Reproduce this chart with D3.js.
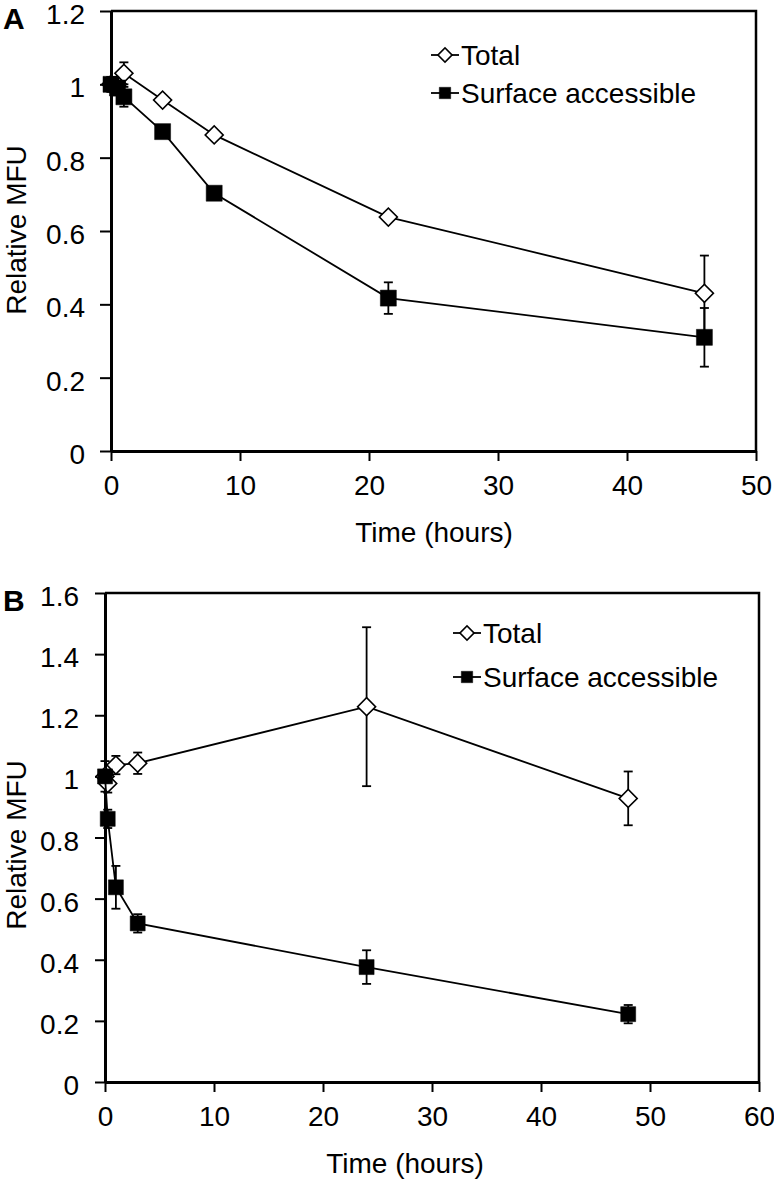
<!DOCTYPE html>
<html>
<head>
<meta charset="utf-8">
<script src="https://cdn.jsdelivr.net/npm/d3@7"></script>
<style>
  body { margin: 0; background: #fff; }
  text { font-family: "Liberation Sans", Arial, sans-serif; fill: #000; }
</style>
</head>
<body>
<div id="chart"></div>
<script>
// Panel A data
const timeA = [0, 0.5, 1, 4, 8, 21.5, 46];
const totalA = [1.0, 1.0, 1.03, 0.957, 0.862, 0.638, 0.43];
const totalErrA = [0.02, 0.02, 0.03, 0.01, 0.01, 0.01, 0.103];
const surfaceA = [1.0, 0.99, 0.966, 0.871, 0.703, 0.417, 0.31];
const surfaceErrA = [0.02, 0.02, 0.027, 0.01, 0.01, 0.043, 0.08];
const xTicksA = [0, 10, 20, 30, 40, 50];
const yTicksA = [0, 0.2, 0.4, 0.6, 0.8, 1, 1.2];

// Panel B data
const timeB = [0, 0.25, 1, 3, 24, 48];
const totalB = [1.0, 0.977, 1.037, 1.043, 1.228, 0.928];
const totalErrB = [0.05, 0.03, 0.03, 0.035, 0.26, 0.088];
const surfaceB = [1.0, 0.861, 0.637, 0.519, 0.376, 0.222];
const surfaceErrB = [0.02, 0.03, 0.07, 0.03, 0.055, 0.03];
const xTicksB = [0, 10, 20, 30, 40, 50, 60];
const yTicksB = [0, 0.2, 0.4, 0.6, 0.8, 1, 1.2, 1.4, 1.6];

const seriesNames = ["Total", "Surface accessible"];
const FS = 28;

const svg = d3.select("#chart").append("svg")
    .attr("width", 774)
    .attr("height", 1179);

function drawPanel(p) {
    const x = d3.scaleLinear().domain([0, p.xTicks[p.xTicks.length - 1]]).range([p.left, p.right]);
    const y = d3.scaleLinear().domain([0, p.yTicks[p.yTicks.length - 1]]).range([p.bottom, p.top]);
    const g = svg.append("g");

    // frame (top + right)
    g.append("path")
        .attr("d", `M${p.left},${p.top}H${p.right}V${p.bottom}`)
        .attr("fill", "none").attr("stroke", "#000").attr("stroke-width", 2.5);

    const fmt = d3.format("~g");
    const yAxis = g.append("g")
        .attr("transform", `translate(${p.left},0)`)
        .call(d3.axisLeft(y).tickValues(p.yTicks).tickFormat(fmt).tickSize(p.tick).tickSizeOuter(0).tickPadding(p.yPad));
    yAxis.selectAll(".tick text").attr("dy", "0.45em");
    const xAxis = g.append("g")
        .attr("transform", `translate(0,${p.bottom})`)
        .call(d3.axisBottom(x).tickValues(p.xTicks).tickFormat(fmt).tickSize(10).tickSizeOuter(0).tickPadding(14));
    [xAxis, yAxis].forEach(a => {
        a.attr("font-size", null).attr("font-family", null);
        a.select(".domain").attr("stroke-width", 3);
        a.selectAll(".tick line").attr("stroke-width", 2);
        a.selectAll(".tick text").attr("font-size", FS);
    });

    g.append("text")
        .attr("x", p.titleX).attr("y", p.bottom + 81)
        .attr("dy", "0.35em")
        .attr("text-anchor", "middle")
        .attr("font-size", FS)
        .text("Time (hours)");

    g.append("text")
        .attr("transform", `translate(16,${p.labelY}) rotate(-90)`)
        .attr("dy", "0.35em")
        .attr("text-anchor", "middle")
        .attr("font-size", FS)
        .text("Relative MFU");

    // panel letter
    g.append("text")
        .attr("x", 3).attr("y", p.top + 18)
        .attr("font-size", 30).attr("font-weight", "bold")
        .text(p.letter);

    const line = d3.line().x(d => x(d.t)).y(d => y(d.v));
    p.series.forEach((s, si) => {
        const pts = p.time.map((t, i) => ({ t: t, v: s.values[i], e: s.errs[i] }));
        const sg = g.append("g");
        sg.append("path").datum(pts)
            .attr("d", line)
            .attr("fill", "none").attr("stroke", "#000").attr("stroke-width", 1.8);

        const eb = sg.selectAll(".err").data(pts).enter().append("g");
        eb.append("line")
            .attr("x1", d => x(d.t)).attr("x2", d => x(d.t))
            .attr("y1", d => y(d.v - d.e)).attr("y2", d => y(d.v + d.e))
            .attr("stroke", "#000").attr("stroke-width", 1.8);
        [-1, 1].forEach(sign => {
            eb.append("line")
                .attr("x1", d => x(d.t) - 4.5).attr("x2", d => x(d.t) + 4.5)
                .attr("y1", d => y(d.v + sign * d.e)).attr("y2", d => y(d.v + sign * d.e))
                .attr("stroke", "#000").attr("stroke-width", 1.8);
        });

        sg.selectAll(".mark").data(pts).enter().append("path")
            .attr("d", s.symbol)
            .attr("transform", d => `translate(${x(d.t)},${y(d.v)})` + (si === 0 ? " rotate(45)" : ""))
            .attr("fill", s.fill).attr("stroke", "#000").attr("stroke-width", si === 0 ? 1.6 : 0.5);

        // legend entry
        const ly = p.legY[si];
        g.append("line")
            .attr("x1", p.legX - 14).attr("x2", p.legX + 14)
            .attr("y1", ly).attr("y2", ly)
            .attr("stroke", "#000").attr("stroke-width", 1.8);
        g.append("path")
            .attr("d", si === 0 ? d3.symbol(d3.symbolSquare, 100)() : d3.symbol(d3.symbolSquare, 130)())
            .attr("transform", `translate(${p.legX},${ly})` + (si === 0 ? " rotate(45)" : ""))
            .attr("fill", s.fill).attr("stroke", "#000").attr("stroke-width", si === 0 ? 1.6 : 0.5);
        g.append("text")
            .attr("x", p.legX + 16).attr("y", ly)
            .attr("dy", "0.35em")
            .attr("font-size", FS)
            .text(seriesNames[si]);
    });
}

drawPanel({
    letter: "A",
    left: 111, right: 756, top: 11, bottom: 451, tick: 11, yPad: 15,
    titleX: 434, labelY: 230,
    legX: 445, legY: [55, 93],
    xTicks: xTicksA, yTicks: yTicksA, time: timeA,
    series: [
        { values: totalA, errs: totalErrA, fill: "#fff", symbol: d3.symbol(d3.symbolSquare, 162)() },
        { values: surfaceA, errs: surfaceErrA, fill: "#000", symbol: d3.symbol(d3.symbolSquare, 256)() }
    ]
});

drawPanel({
    letter: "B",
    left: 105, right: 759, top: 593, bottom: 1082, tick: 10, yPad: 16,
    titleX: 405, labelY: 845,
    legX: 467, legY: [633, 677],
    xTicks: xTicksB, yTicks: yTicksB, time: timeB,
    series: [
        { values: totalB, errs: totalErrB, fill: "#fff", symbol: d3.symbol(d3.symbolSquare, 162)() },
        { values: surfaceB, errs: surfaceErrB, fill: "#000", symbol: d3.symbol(d3.symbolSquare, 225)() }
    ]
});
</script>
</body>
</html>
